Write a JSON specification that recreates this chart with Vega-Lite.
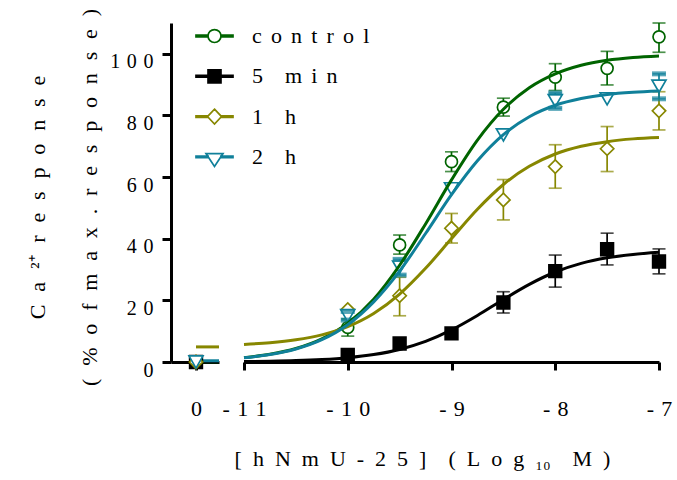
{
  "$schema": "https://vega.github.io/schema/vega-lite/v6.json",
  "background": "white",
  "padding": {"left": 25, "top": 8, "right": 5, "bottom": 5},
  "bounds": "flush",
  "config": {
    "view": {"stroke": null},
    "font": "Liberation Serif",
    "concat": {"spacing": 25},
    "axis": {
      "grid": false,
      "domainColor": "black",
      "domainWidth": 3,
      "tickColor": "black",
      "tickWidth": 3,
      "labelColor": "black",
      "labelFont": "Liberation Serif",
      "labelFontSize": 21,
      "labelFlush": false,
      "labelOverlap": false,
      "titleFont": "Liberation Serif",
      "titleFontSize": 22,
      "titleFontWeight": "normal",
      "titleColor": "black"
    }
  },
  "datasets": {
    "points": [
      {"g": "control", "x": 0, "y": 0},
      {"g": "5 min", "x": 0, "y": 0},
      {"g": "1 h", "x": 0, "y": 0},
      {"g": "2 h", "x": 0, "y": 0},
      {"g": "control", "x": -10, "y": 11.2, "lo": 8.4, "hi": 14},
      {"g": "control", "x": -9.5, "y": 38, "lo": 35, "hi": 41.2},
      {"g": "control", "x": -9, "y": 65, "lo": 61.8, "hi": 68.2},
      {"g": "control", "x": -8.5, "y": 82.7, "lo": 79.8, "hi": 85.6},
      {"g": "control", "x": -8, "y": 92.4, "lo": 88.1, "hi": 96.8},
      {"g": "control", "x": -7.5, "y": 95.3, "lo": 89.9, "hi": 100.8},
      {"g": "control", "x": -7, "y": 105.5, "lo": 100.5, "hi": 110},
      {"g": "5 min", "x": -10, "y": 2.3},
      {"g": "5 min", "x": -9.5, "y": 6},
      {"g": "5 min", "x": -9, "y": 9.3},
      {"g": "5 min", "x": -8.5, "y": 19.3, "lo": 15.9, "hi": 22.8},
      {"g": "5 min", "x": -8, "y": 29.5, "lo": 24.3, "hi": 34.7},
      {"g": "5 min", "x": -7.5, "y": 36.6, "lo": 31.5, "hi": 41.8},
      {"g": "5 min", "x": -7, "y": 32.6, "lo": 28.6, "hi": 36.7},
      {"g": "1 h", "x": -10, "y": 17},
      {"g": "1 h", "x": -9.5, "y": 21.5, "lo": 15, "hi": 27.5},
      {"g": "1 h", "x": -9, "y": 43.4, "lo": 38.6, "hi": 48.2},
      {"g": "1 h", "x": -8.5, "y": 52.6, "lo": 46.1, "hi": 59.2},
      {"g": "1 h", "x": -8, "y": 63.4, "lo": 56.4, "hi": 70.5},
      {"g": "1 h", "x": -7.5, "y": 69.2, "lo": 61.8, "hi": 76.4},
      {"g": "1 h", "x": -7, "y": 81.5, "lo": 75.3, "hi": 87.7},
      {"g": "2 h", "x": -10, "y": 15, "lo": 13.6, "hi": 16.4},
      {"g": "2 h", "x": -9.5, "y": 30.8, "lo": 28.2, "hi": 33.3},
      {"g": "2 h", "x": -9, "y": 56.2},
      {"g": "2 h", "x": -8.5, "y": 73.7},
      {"g": "2 h", "x": -8, "y": 84.8, "lo": 82.3, "hi": 87.3},
      {"g": "2 h", "x": -7.5, "y": 85.4},
      {"g": "2 h", "x": -7, "y": 89.5, "lo": 85.4, "hi": 93.5}
    ],
    "curves": [
      {"g": "control", "seg": "L", "x": 0, "y": 0},
      {"g": "control", "seg": "L", "x": 0.92, "y": 0},
      {"g": "5 min", "seg": "L", "x": 0, "y": 0},
      {"g": "5 min", "seg": "L", "x": 0.92, "y": 0},
      {"g": "1 h", "seg": "L", "x": 0, "y": 4.9},
      {"g": "1 h", "seg": "L", "x": 0.92, "y": 4.9},
      {"g": "2 h", "seg": "L", "x": 0, "y": 0.4},
      {"g": "2 h", "seg": "L", "x": 0.92, "y": 0.4},
      {"g": "control", "seg": "R", "x": -11, "y": 1.42},
      {"g": "control", "seg": "R", "x": -10.75, "y": 2.51},
      {"g": "control", "seg": "R", "x": -10.5, "y": 4.37},
      {"g": "control", "seg": "R", "x": -10.25, "y": 7.52},
      {"g": "control", "seg": "R", "x": -10, "y": 12.6},
      {"g": "control", "seg": "R", "x": -9.75, "y": 20.4},
      {"g": "control", "seg": "R", "x": -9.5, "y": 31.4},
      {"g": "control", "seg": "R", "x": -9.25, "y": 44.8},
      {"g": "control", "seg": "R", "x": -9, "y": 59.1},
      {"g": "control", "seg": "R", "x": -8.75, "y": 72.0},
      {"g": "control", "seg": "R", "x": -8.5, "y": 82.0},
      {"g": "control", "seg": "R", "x": -8.25, "y": 89.0},
      {"g": "control", "seg": "R", "x": -8, "y": 93.5},
      {"g": "control", "seg": "R", "x": -7.75, "y": 96.3},
      {"g": "control", "seg": "R", "x": -7.5, "y": 97.9},
      {"g": "control", "seg": "R", "x": -7.25, "y": 98.8},
      {"g": "control", "seg": "R", "x": -7, "y": 99.3},
      {"g": "5 min", "seg": "R", "x": -11, "y": 0.15},
      {"g": "5 min", "seg": "R", "x": -10.75, "y": 0.26},
      {"g": "5 min", "seg": "R", "x": -10.5, "y": 0.45},
      {"g": "5 min", "seg": "R", "x": -10.25, "y": 0.8},
      {"g": "5 min", "seg": "R", "x": -10, "y": 1.4},
      {"g": "5 min", "seg": "R", "x": -9.75, "y": 2.42},
      {"g": "5 min", "seg": "R", "x": -9.5, "y": 4.08},
      {"g": "5 min", "seg": "R", "x": -9.25, "y": 6.67},
      {"g": "5 min", "seg": "R", "x": -9, "y": 10.4},
      {"g": "5 min", "seg": "R", "x": -8.75, "y": 15.1},
      {"g": "5 min", "seg": "R", "x": -8.5, "y": 20.3},
      {"g": "5 min", "seg": "R", "x": -8.25, "y": 25.2},
      {"g": "5 min", "seg": "R", "x": -8, "y": 29.2},
      {"g": "5 min", "seg": "R", "x": -7.75, "y": 32.0},
      {"g": "5 min", "seg": "R", "x": -7.5, "y": 33.8},
      {"g": "5 min", "seg": "R", "x": -7.25, "y": 34.9},
      {"g": "5 min", "seg": "R", "x": -7, "y": 35.6},
      {"g": "1 h", "seg": "R", "x": -11, "y": 5.71},
      {"g": "1 h", "seg": "R", "x": -10.75, "y": 6.25},
      {"g": "1 h", "seg": "R", "x": -10.5, "y": 7.2},
      {"g": "1 h", "seg": "R", "x": -10.25, "y": 8.81},
      {"g": "1 h", "seg": "R", "x": -10, "y": 11.49},
      {"g": "1 h", "seg": "R", "x": -9.75, "y": 15.75},
      {"g": "1 h", "seg": "R", "x": -9.5, "y": 22.04},
      {"g": "1 h", "seg": "R", "x": -9.25, "y": 30.39},
      {"g": "1 h", "seg": "R", "x": -9, "y": 40.04},
      {"g": "1 h", "seg": "R", "x": -8.75, "y": 49.57},
      {"g": "1 h", "seg": "R", "x": -8.5, "y": 57.6},
      {"g": "1 h", "seg": "R", "x": -8.25, "y": 63.5},
      {"g": "1 h", "seg": "R", "x": -8, "y": 67.5},
      {"g": "1 h", "seg": "R", "x": -7.75, "y": 70.0},
      {"g": "1 h", "seg": "R", "x": -7.5, "y": 71.5},
      {"g": "1 h", "seg": "R", "x": -7.25, "y": 72.4},
      {"g": "1 h", "seg": "R", "x": -7, "y": 72.85},
      {"g": "2 h", "seg": "R", "x": -11, "y": 1.38},
      {"g": "2 h", "seg": "R", "x": -10.75, "y": 2.42},
      {"g": "2 h", "seg": "R", "x": -10.5, "y": 4.22},
      {"g": "2 h", "seg": "R", "x": -10.25, "y": 7.24},
      {"g": "2 h", "seg": "R", "x": -10, "y": 12.1},
      {"g": "2 h", "seg": "R", "x": -9.75, "y": 19.5},
      {"g": "2 h", "seg": "R", "x": -9.5, "y": 29.5},
      {"g": "2 h", "seg": "R", "x": -9.25, "y": 41.7},
      {"g": "2 h", "seg": "R", "x": -9, "y": 54.3},
      {"g": "2 h", "seg": "R", "x": -8.75, "y": 65.3},
      {"g": "2 h", "seg": "R", "x": -8.5, "y": 73.8},
      {"g": "2 h", "seg": "R", "x": -8.25, "y": 79.6},
      {"g": "2 h", "seg": "R", "x": -8, "y": 83.3},
      {"g": "2 h", "seg": "R", "x": -7.75, "y": 85.5},
      {"g": "2 h", "seg": "R", "x": -7.5, "y": 86.8},
      {"g": "2 h", "seg": "R", "x": -7.25, "y": 87.5},
      {"g": "2 h", "seg": "R", "x": -7, "y": 87.9}
    ]
  },
  "resolve": {"scale": {"x": "independent", "color": "independent", "shape": "independent", "fill": "independent", "stroke": "independent", "size": "independent"}},
  "hconcat": [
    {
      "width": 48,
      "height": 339,
      "layer": [
        {
          "data": {"name": "curves"},
          "transform": [{"filter": "datum.seg == 'L'"}],
          "mark": {"type": "line", "strokeWidth": 3},
          "encoding": {
            "x": {"field": "x", "type": "quantitative", "scale": {"domain": [-1, 0.92], "nice": false, "zero": false},
              "axis": {"values": [0], "labelExpr": "'0'", "tickSize": 8, "labelPadding": 45, "labelBaseline": "alphabetic", "labelFontSize": 22, "title": null}},
            "y": {"field": "y", "type": "quantitative", "scale": {"domain": [0, 110], "nice": false},
              "axis": {
                "values": [0, 10, 20, 30, 40, 50, 60, 70, 80, 90, 100],
                "tickSize": {"condition": {"test": "datum.value % 20 != 0", "value": 5}, "value": 9},
                "labelPadding": 9,
                "labelOffset": 14,
                "labelFontSize": 20,
                "labelBaseline": "alphabetic",
                "labelExpr": "datum.value % 20 != 0 ? '' : datum.value == 100 ? '1\u20040\u20040' : datum.value == 0 ? '0' : (datum.value / 10) + '\u20040'",
                "title": ["C\u2002\u200aa\u2002\u200a²⁺\u2002\u200ar\u2002\u200ae\u2002\u200as\u2002\u200ap\u2002\u200ao\u2002\u200an\u2002\u200as\u2002\u200ae", "(\u2002\u200a%\u2002\u200ao\u2002\u200af\u2002\u200am\u2002\u200aa\u2002\u200ax\u2002\u200a.\u2002\u200ar\u2002\u200ae\u2002\u200as\u2002\u200ap\u2002\u200ao\u2002\u200an\u2002\u200as\u2002\u200ae\u2002\u200a)"],
                "titleLineHeight": 52,
                "titleBaseline": "alphabetic",
                "titleX": -127,
                "titleY": 174,
                "titleAlign": "center"
              }},
            "color": {"field": "g", "type": "nominal", "scale": {"domain": ["control", "5 min", "1 h", "2 h"], "range": ["#006400", "#000000", "#878700", "#10809a"]}, "legend": null}
          }
        },
        {
          "data": {"name": "points"},
          "transform": [{"filter": "datum.x == 0"}],
          "mark": {"type": "point", "filled": true, "strokeWidth": 1.7, "opacity": 1},
          "encoding": {
            "x": {"field": "x", "type": "quantitative"},
            "y": {"field": "y", "type": "quantitative"},
            "shape": {"field": "g", "type": "nominal", "scale": {"domain": ["control", "5 min", "1 h", "2 h"], "range": ["circle", "square", "diamond", "triangle-down"]}, "legend": null},
            "stroke": {"field": "g", "type": "nominal", "scale": {"domain": ["control", "5 min", "1 h", "2 h"], "range": ["#006400", "#000000", "#878700", "#10809a"]}, "legend": null},
            "fill": {"field": "g", "type": "nominal", "scale": {"domain": ["control", "5 min", "1 h", "2 h"], "range": ["white", "black", "white", "white"]}, "legend": null},
            "size": {"field": "g", "type": "nominal", "scale": {"domain": ["control", "5 min", "1 h", "2 h"], "range": [143, 196, 180, 190]}, "legend": null}
          }
        }
      ]
    },
    {
      "width": 415,
      "height": 339,
      "resolve": {"scale": {"shape": "independent", "stroke": "independent", "fill": "independent", "size": "independent"}},
      "encoding": {
        "x": {"field": "x", "type": "quantitative", "scale": {"domain": [-11, -7], "nice": false, "zero": false},
          "axis": {
            "values": [-11, -10, -9, -8, -7],
            "tickSize": 8,
            "labelPadding": 45,
            "labelBaseline": "alphabetic",
            "labelFontSize": 22,
            "labelExpr": "'-\u2004' + (datum.value == -11 ? '1\u20041' : datum.value == -10 ? '1\u20040' : (-datum.value))",
            "title": "[\u2002h\u2002N\u2002m\u2002U\u2002-\u20022\u20025\u2002]\u2002\u2002(\u2002L\u2002o\u2002g\u2002₁₀\u2002\u2002M\u2002)",
            "titleX": 178,
            "titleY": 103,
            "titleBaseline": "alphabetic",
            "titleAlign": "center"
          }}
      },
      "layer": [
        {
          "data": {"name": "points"},
          "transform": [{"filter": "datum.x < 0 && isValid(datum.lo)"}],
          "mark": {"type": "rule", "strokeWidth": 1.7},
          "encoding": {
            "y": {"field": "lo", "type": "quantitative", "scale": {"domain": [0, 110], "nice": false}, "axis": null},
            "y2": {"field": "hi"},
            "color": {"field": "g", "type": "nominal", "scale": {"domain": ["control", "5 min", "1 h", "2 h"], "range": ["#006400", "#000000", "#878700", "#10809a"]}, "legend": null}
          }
        },
        {
          "data": {"name": "points"},
          "transform": [{"filter": "datum.x < 0 && isValid(datum.lo)"}],
          "mark": {"type": "tick", "orient": "horizontal", "size": 13, "thickness": 1.7},
          "encoding": {
            "y": {"field": "lo", "type": "quantitative"},
            "color": {"field": "g", "type": "nominal", "legend": null}
          }
        },
        {
          "data": {"name": "points"},
          "transform": [{"filter": "datum.x < 0 && isValid(datum.lo)"}],
          "mark": {"type": "tick", "orient": "horizontal", "size": 13, "thickness": 1.7},
          "encoding": {
            "y": {"field": "hi", "type": "quantitative"},
            "color": {"field": "g", "type": "nominal", "legend": null}
          }
        },
        {
          "data": {"name": "points"},
          "transform": [{"filter": "datum.x < 0"}],
          "mark": {"type": "point", "filled": true, "strokeWidth": 1.7, "opacity": 1},
          "encoding": {
            "y": {"field": "y", "type": "quantitative"},
            "shape": {"field": "g", "type": "nominal", "scale": {"domain": ["control", "5 min", "1 h", "2 h"], "range": ["circle", "square", "diamond", "triangle-down"]}, "legend": null},
            "stroke": {"field": "g", "type": "nominal", "scale": {"domain": ["control", "5 min", "1 h", "2 h"], "range": ["#006400", "#000000", "#878700", "#10809a"]}, "legend": null},
            "fill": {"field": "g", "type": "nominal", "scale": {"domain": ["control", "5 min", "1 h", "2 h"], "range": ["white", "black", "white", "white"]}, "legend": null},
            "size": {"field": "g", "type": "nominal", "scale": {"domain": ["control", "5 min", "1 h", "2 h"], "range": [143, 196, 180, 190]}, "legend": null}
          }
        },
        {
          "data": {"name": "points"},
          "transform": [{"filter": "datum.x < 0 && datum.g == '2 h' && isValid(datum.lo)"}],
          "mark": {"type": "tick", "orient": "horizontal", "size": 14, "thickness": 5, "color": "#10809a"},
          "encoding": {"y": {"field": "lo", "type": "quantitative"}}
        },
        {
          "data": {"name": "points"},
          "transform": [{"filter": "datum.x < 0 && datum.g == '2 h' && isValid(datum.lo)"}],
          "mark": {"type": "tick", "orient": "horizontal", "size": 14, "thickness": 5, "color": "#10809a"},
          "encoding": {"y": {"field": "hi", "type": "quantitative"}}
        },
        {
          "data": {"name": "curves"},
          "transform": [{"filter": "datum.seg == 'R'"}],
          "mark": {"type": "line", "strokeWidth": 3, "interpolate": "monotone"},
          "encoding": {
            "y": {"field": "y", "type": "quantitative"},
            "color": {"field": "g", "type": "nominal", "legend": null}
          }
        },
        {
          "data": {"name": "points"},
          "transform": [{"filter": "datum.x == -7"}],
          "mark": {"type": "point", "filled": true, "strokeWidth": 1.7, "opacity": 0, "size": 1369},
          "encoding": {
            "y": {"field": "y", "type": "quantitative"},
            "shape": {"field": "g", "type": "nominal",
              "scale": {"domain": ["control", "5 min", "1 h", "2 h"], "range": [
                "M-1,-0.045L-0.35,-0.045L-0.35,0.045L-1,0.045ZM0.35,-0.045L1,-0.045L1,0.045L0.35,0.045ZM-0.35,0A0.35,0.35,0,1,0,0.35,0A0.35,0.35,0,1,0,-0.35,0Z",
                "M-1,-0.045L-0.35,-0.045L-0.35,0.045L-1,0.045ZM0.35,-0.045L1,-0.045L1,0.045L0.35,0.045ZM-0.35,-0.35L0.35,-0.35L0.35,0.35L-0.35,0.35Z",
                "M-1,-0.045L-0.38,-0.045L-0.38,0.045L-1,0.045ZM0.38,-0.045L1,-0.045L1,0.045L0.38,0.045ZM0,-0.4L0.38,0L0,0.4L-0.38,0Z",
                "M-1,-0.045L-0.34,-0.045L-0.34,0.045L-1,0.045ZM0.34,-0.045L1,-0.045L1,0.045L0.34,0.045ZM-0.46,-0.18L0.46,-0.18L0,0.52Z"
              ]},
              "legend": {"orient": "none", "legendX": -49, "legendY": -6.5, "title": null, "padding": 0, "symbolSize": 1369, "symbolStrokeWidth": 1.7, "symbolOpacity": 1, "labelFont": "Liberation Serif", "labelFontSize": 22, "labelColor": "black", "labelOffset": 18, "rowPadding": 9.3, "labelLimit": 300,
                "labelExpr": "datum.value == 'control' ? 'c\u2005\u2006o\u2005\u2006n\u2005\u2006t\u2005\u2006r\u2005\u2006o\u2005\u2006l' : datum.value == '5 min' ? '5\u2002\u2002m\u2005\u2006i\u2005\u2006n' : datum.value == '1 h' ? '1\u2002\u2002h' : '2\u2002\u2002h'"}},
            "stroke": {"field": "g", "type": "nominal", "scale": {"domain": ["control", "5 min", "1 h", "2 h"], "range": ["#006400", "#000000", "#878700", "#10809a"]},
              "legend": {"orient": "none", "legendX": -49, "legendY": -6.5, "title": null, "padding": 0, "symbolSize": 1369, "symbolStrokeWidth": 1.7, "symbolOpacity": 1, "labelFont": "Liberation Serif", "labelFontSize": 22, "labelColor": "black", "labelOffset": 18, "rowPadding": 9.3, "labelLimit": 300,
                "labelExpr": "datum.value == 'control' ? 'c\u2005\u2006o\u2005\u2006n\u2005\u2006t\u2005\u2006r\u2005\u2006o\u2005\u2006l' : datum.value == '5 min' ? '5\u2002\u2002m\u2005\u2006i\u2005\u2006n' : datum.value == '1 h' ? '1\u2002\u2002h' : '2\u2002\u2002h'"}},
            "fill": {"field": "g", "type": "nominal", "scale": {"domain": ["control", "5 min", "1 h", "2 h"], "range": ["white", "black", "white", "white"]},
              "legend": {"orient": "none", "legendX": -49, "legendY": -6.5, "title": null, "padding": 0, "symbolSize": 1369, "symbolStrokeWidth": 1.7, "symbolOpacity": 1, "labelFont": "Liberation Serif", "labelFontSize": 22, "labelColor": "black", "labelOffset": 18, "rowPadding": 9.3, "labelLimit": 300,
                "labelExpr": "datum.value == 'control' ? 'c\u2005\u2006o\u2005\u2006n\u2005\u2006t\u2005\u2006r\u2005\u2006o\u2005\u2006l' : datum.value == '5 min' ? '5\u2002\u2002m\u2005\u2006i\u2005\u2006n' : datum.value == '1 h' ? '1\u2002\u2002h' : '2\u2002\u2002h'"}}
          }
        }
      ]
    }
  ]
}
